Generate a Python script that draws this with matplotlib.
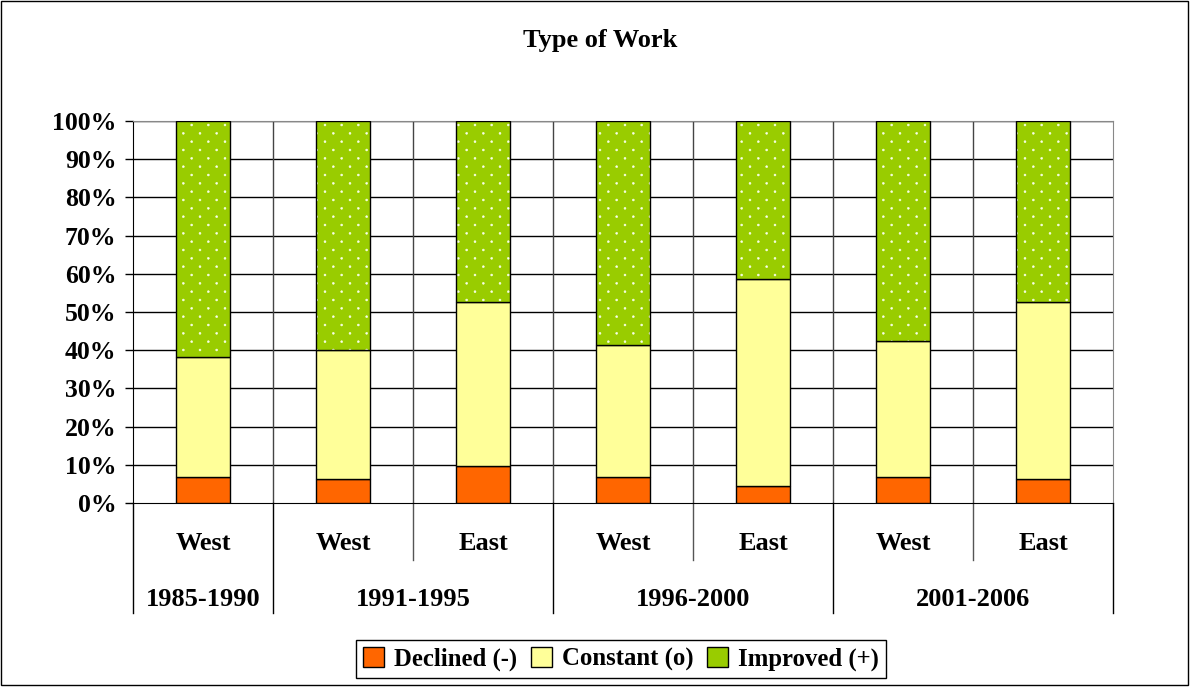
import matplotlib
matplotlib.use("Agg")
import warnings
import matplotlib.pyplot as plt
import matplotlib.hatch as mhatch
from matplotlib.path import Path
from matplotlib.patches import Patch, Rectangle
import numpy as np

warnings.filterwarnings("ignore")

# ---- data ----
regions = ["West", "West", "East", "West", "East", "West", "East"]
periods = ["1985-1990", "1991-1995", "1996-2000", "2001-2006"]
period_members = [[0], [1, 2], [3, 4], [5, 6]]
declined = [6.8, 6.2, 9.8, 6.8, 4.4, 6.8, 6.4]
constant = [31.4, 33.8, 42.8, 34.5, 54.3, 35.5, 46.2]
improved = [61.8, 60.0, 47.4, 58.7, 41.3, 57.7, 47.4]
series_names = ["Declined (-)", "Constant (o)", "Improved (+)"]
colors = ["#FF6600", "#FFFF99", "#99CC00"]
yticks = list(range(0, 101, 10))


# sparse staggered dot texture (like the Excel "small confetti" fill)
class OffsetDots(mhatch.HatchPatternBase):
    rows = 12
    radius = 0.0095

    def __init__(self, hatch, density):
        circ = Path.unit_circle()
        self.cv = circ.vertices
        self.cc = circ.codes
        pts = []
        for row in range(self.rows + 1):
            yy = row / self.rows
            if row % 2 == 0:
                xs = np.linspace(0, 1, self.rows // 2 + 1)
            else:
                xs = np.linspace(1 / self.rows, 1 - 1 / self.rows, self.rows // 2)
            pts += [(xx, yy) for xx in xs]
        self.pts = pts
        self.num_vertices = len(pts) * len(self.cv) if ':' in hatch else 0

    def set_vertices_and_codes(self, vertices, codes):
        n = len(self.cv)
        for i, (px, py) in enumerate(self.pts):
            vertices[i * n:(i + 1) * n] = self.cv * self.radius + [px, py]
            codes[i * n:(i + 1) * n] = self.cc


mhatch._hatch_types.append(OffsetDots)

plt.rcParams['font.family'] = ['Liberation Serif', 'DejaVu Serif']
plt.rcParams['font.weight'] = 'bold'
plt.rcParams['hatch.linewidth'] = 0.4

W, H = 1192, 687
fig = plt.figure(figsize=(W / 100, H / 100), dpi=100)
fig.patch.set_facecolor('white')
fig.patches.append(Rectangle((1 / W, 2 / H), 1187 / W, 684 / H, transform=fig.transFigure,
                             fill=False, edgecolor='black', linewidth=1.0))

ax = fig.add_axes([133 / W, (H - 503) / H, 980 / W, 382 / H])
x = np.arange(len(regions))
bw = 0.39

ax.bar(x, declined, bw, color=colors[0], edgecolor='black', linewidth=1.0, zorder=3)
ax.bar(x, constant, bw, bottom=declined, color=colors[1], edgecolor='black', linewidth=1.0, zorder=3)
bottom2 = np.array(declined) + np.array(constant)
ax.bar(x, improved, bw, bottom=bottom2, color=colors[2], edgecolor='#F8FFE8', hatch=':',
       linewidth=0, zorder=3)
ax.bar(x, improved, bw, bottom=bottom2, fill=False, edgecolor='black', linewidth=1.0, zorder=4)

ax.set_xlim(-0.5, len(regions) - 0.5)
ax.set_ylim(0, 100)
ax.set_yticks(yticks)
ax.set_yticklabels([f"{v}%" for v in yticks], fontsize=18.5, fontweight='bold')
ax.tick_params(axis='y', direction='out', length=6, width=1, pad=6)
ax.set_xticks([])
for v in yticks[1:]:
    ax.axhline(v, color='black', linewidth=1.0, zorder=1)
for b in np.arange(0.5, len(regions) - 0.5, 1.0):
    ax.axvline(b, color='#444444', linewidth=1.0, zorder=1)
for s in ['top', 'right']:
    ax.spines[s].set_color('#888888')
ax.spines['left'].set_color('black')
ax.spines['bottom'].set_color('black')

# category axis labels
tr = ax.get_xaxis_transform()
y1 = -(544 - 503) / 382
y2 = -(600 - 503) / 382
for i, r in enumerate(regions):
    ax.text(i, y1, r, transform=tr, ha='center', va='center', fontsize=19, fontweight='bold')
for p, mem in zip(periods, period_members):
    ax.text(np.mean(mem), y2, p, transform=tr, ha='center', va='center', fontsize=19, fontweight='bold')

inner_end = -(560 - 503) / 382
group_end = -(613 - 503) / 382
group_bounds = [-0.5] + [m[-1] + 0.5 for m in period_members]
inner_bounds = [m[0] + 0.5 for m in period_members if len(m) > 1]
for b in group_bounds:
    ax.plot([b, b], [0, group_end], transform=tr, color='black', linewidth=1.0, clip_on=False)
for b in inner_bounds:
    ax.plot([b, b], [0, inner_end], transform=tr, color='#555555', linewidth=1.0, clip_on=False)

fig.text(600 / W, 1 - 41 / H, "Type of Work", ha='center', va='center', fontsize=19, fontweight='bold')

handles = [Patch(facecolor=colors[0], edgecolor='black'),
           Patch(facecolor=colors[1], edgecolor='black'),
           Patch(facecolor=colors[2], edgecolor='black')]
leg = fig.legend(handles, series_names, loc='center', bbox_to_anchor=(621 / W, 1 - 659 / H),
                 ncol=3, fancybox=False, framealpha=1, edgecolor='black',
                 prop={'family': 'Liberation Serif', 'weight': 'bold', 'size': 17.8},
                 handlelength=0.85, handleheight=0.85, handletextpad=0.4, columnspacing=0.55,
                 borderpad=0.3, borderaxespad=0)
leg.get_frame().set_linewidth(1.0)

fig.savefig("out.png", dpi=100)
